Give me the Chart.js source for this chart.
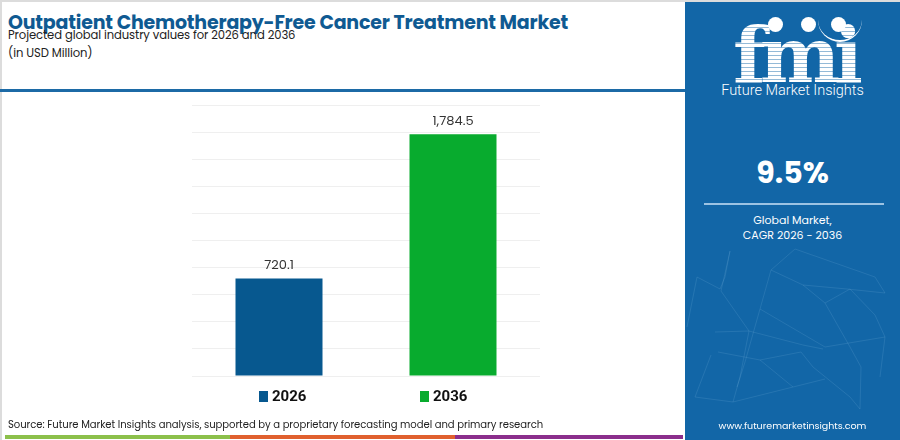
<!DOCTYPE html>
<html>
<head>
<meta charset="utf-8">
<script src="https://cdn.jsdelivr.net/npm/chart.js@4.4.1/dist/chart.umd.min.js"></script>
<style>
  html, body { margin: 0; padding: 0; }
  body { width: 900px; height: 440px; position: relative; overflow: hidden; background: #fff; font-family: 'Poppins', 'Inter', 'Noto Sans', sans-serif; }
  .frame { position: absolute; left: 0; top: 0; width: 898px; height: 438px; border-top: 2px solid #dcdcdc; border-left: 2px solid #dcdcdc; }
  #title { position: absolute; left: 8px; top: 8px; font-size: 19px; font-weight: 700; color: #0f5a92; letter-spacing: -0.2px; white-space: nowrap; }
  #subtitle { position: absolute; left: 8px; top: 26px; font-size: 11.6px; color: #222; line-height: 18px; letter-spacing: -0.1px; }
  .rule { position: absolute; left: 0; top: 89px; width: 685px; height: 3px; background: #1c6aa6; }
  #chart-box { position: absolute; left: 192px; top: 95px; width: 348px; height: 293px; }
  #legend { position: absolute; top: 387px; left: 0; width: 685px; height: 20px; }
  .lg { position: absolute; font-size: 15px; font-weight: 700; color: #111; font-family: 'Roboto', sans-serif; }
  .lg span { display: inline-block; width: 9px; height: 11px; margin-right: 4px; vertical-align: -1px; }
  #source { position: absolute; left: 8px; top: 417px; font-size: 10.05px; color: #222; letter-spacing: -0.05px; }
  .strip { position: absolute; top: 435px; height: 4px; }
  #panel { position: absolute; left: 685px; top: 2px; width: 215px; height: 438px; background: #1266a7; color: #fff; text-align: center; }
  #net { position: absolute; left: 0; top: 235px; }
  #logo { position: absolute; left: 30px; top: 14px; width: 160px; font-family: 'DejaVu Serif', serif; font-weight: 700; font-size: 76px; line-height: 80px; letter-spacing: -6px;
          background: repeating-linear-gradient(to bottom, #fff 0 3px, rgba(255,255,255,0.55) 3px 4px); -webkit-background-clip: text; background-clip: text; color: transparent; }
  .dot { position: absolute; width: 15px; height: 15px; border-radius: 50%; background: #fff; }
  #arc { position: absolute; left: 133px; top: 12px; width: 44px; height: 26px; border-bottom: 2px solid #fff; border-radius: 0 0 30px 30px; }
  #fmi-name { position: absolute; left: 0; width: 215px; top: 80px; font-size: 14.5px; font-family: 'Roboto', sans-serif; font-weight: 300; }
  #cagr { position: absolute; left: 0; width: 215px; top: 148px; font-size: 30px; font-weight: 700; }
  .hr { position: absolute; left: 19px; width: 180px; top: 201px; height: 2px; background: #9cc3e3; }
  #cagr-label { position: absolute; left: 0; width: 215px; top: 211px; font-size: 11px; line-height: 15px; }
  #url { position: absolute; left: 0; width: 215px; top: 417px; font-size: 9.5px; }
</style>
</head>
<body>
<div class="frame"></div>
<div id="title">Outpatient Chemotherapy-Free Cancer Treatment Market</div>
<div id="subtitle">Projected global industry values for 2026 and 2036<br>(in USD Million)</div>
<div class="rule"></div>

<div id="chart-box"><canvas id="barChart"></canvas></div>
<div id="legend"></div>

<div id="source">Source: Future Market Insights analysis, supported by a proprietary forecasting model and primary research</div>
<div class="strip" style="left:5px;width:225px;background:#8cc04b"></div>
<div class="strip" style="left:230px;width:225px;background:#e0602e"></div>
<div class="strip" style="left:455px;width:228px;background:#8b2e8c"></div>

<div id="panel">
  <svg id="net" width="215" height="180" stroke="#7fb6dc" stroke-width="0.6" stroke-opacity="0.3" fill="none">
    <polyline points="45,14 40,40 35,52 12,40 2,90"/>
    <polyline points="45,14 36,54 64,94 55,140 48,165"/>
    <polyline points="110,12 86,33 75,72 60,125 52,150"/>
    <polyline points="110,12 190,40 200,56 162,52 118,48 86,33"/>
    <polyline points="118,48 140,66 165,110 176,130 175,172"/>
    <polyline points="75,72 140,110 200,100 195,140"/>
    <polyline points="30,95 64,94 118,108 138,112"/>
    <polyline points="33,115 75,123 108,150 140,142"/>
    <polyline points="75,123 116,115 128,130 165,160 175,172"/>
    <polyline points="26,118 10,160 48,165 108,150"/>
    <polyline points="140,66 165,52 190,78 200,100"/>
  </svg>
  <div id="logo">fmi</div>
  <div class="dot" style="left:83px;top:15px"></div>
  <div class="dot" style="left:116px;top:15px"></div>
  <div class="dot" style="left:146px;top:15px"></div>
  <div id="arc"></div>
  <div id="fmi-name">Future Market Insights</div>
  <div id="cagr">9.5%</div>
  <div class="hr"></div>
  <div id="cagr-label">Global Market,<br>CAGR 2026 - 2036</div>
  <div id="url">www.futuremarketinsights.com</div>
</div>

<script>
  // chart data
  const years = ['2026', '2036'];
  const marketValues = [720.1, 1784.5];
  const barColors = ['#07588f', '#08ab2e'];
  const valueLabels = ['720.1', '1,784.5'];
  const legendLeft = [259, 420];

  // legend built from the same arrays
  const legend = document.getElementById('legend');
  years.forEach((y, i) => {
    const item = document.createElement('div');
    item.className = 'lg';
    item.style.left = legendLeft[i] + 'px';
    item.innerHTML = '<span style="background:' + barColors[i] + '"></span>' + y;
    legend.appendChild(item);
  });

  // value text above each bar
  const valueLabelPlugin = {
    id: 'valueLabels',
    afterDatasetsDraw(chart) {
      const ctx = chart.ctx;
      const meta = chart.getDatasetMeta(0);
      ctx.save();
      ctx.font = '13px Poppins, Inter, sans-serif';
      ctx.fillStyle = '#333';
      ctx.textAlign = 'center';
      ctx.textBaseline = 'bottom';
      meta.data.forEach((bar, i) => {
        ctx.fillText(valueLabels[i], bar.x, bar.y - 6);
      });
      ctx.restore();
    }
  };

  new Chart(document.getElementById('barChart'), {
    type: 'bar',
    data: {
      labels: years,
      datasets: [{
        data: marketValues,
        backgroundColor: barColors,
        borderWidth: 0,
        barPercentage: 0.5,
        categoryPercentage: 1
      }]
    },
    options: {
      responsive: true,
      maintainAspectRatio: false,
      animation: false,
      layout: { padding: { top: 10, bottom: 4 } },
      plugins: { legend: { display: false }, tooltip: { enabled: false } },
      scales: {
        x: { display: true, grid: { display: false }, border: { display: false }, ticks: { display: false } },
        y: {
          min: 0, max: 2000,
          ticks: { display: false, stepSize: 200 },
          grid: { color: '#efefef', lineWidth: 1, drawTicks: false },
          border: { display: false }
        }
      }
    },
    plugins: [valueLabelPlugin]
  });
</script>
</body>
</html>
